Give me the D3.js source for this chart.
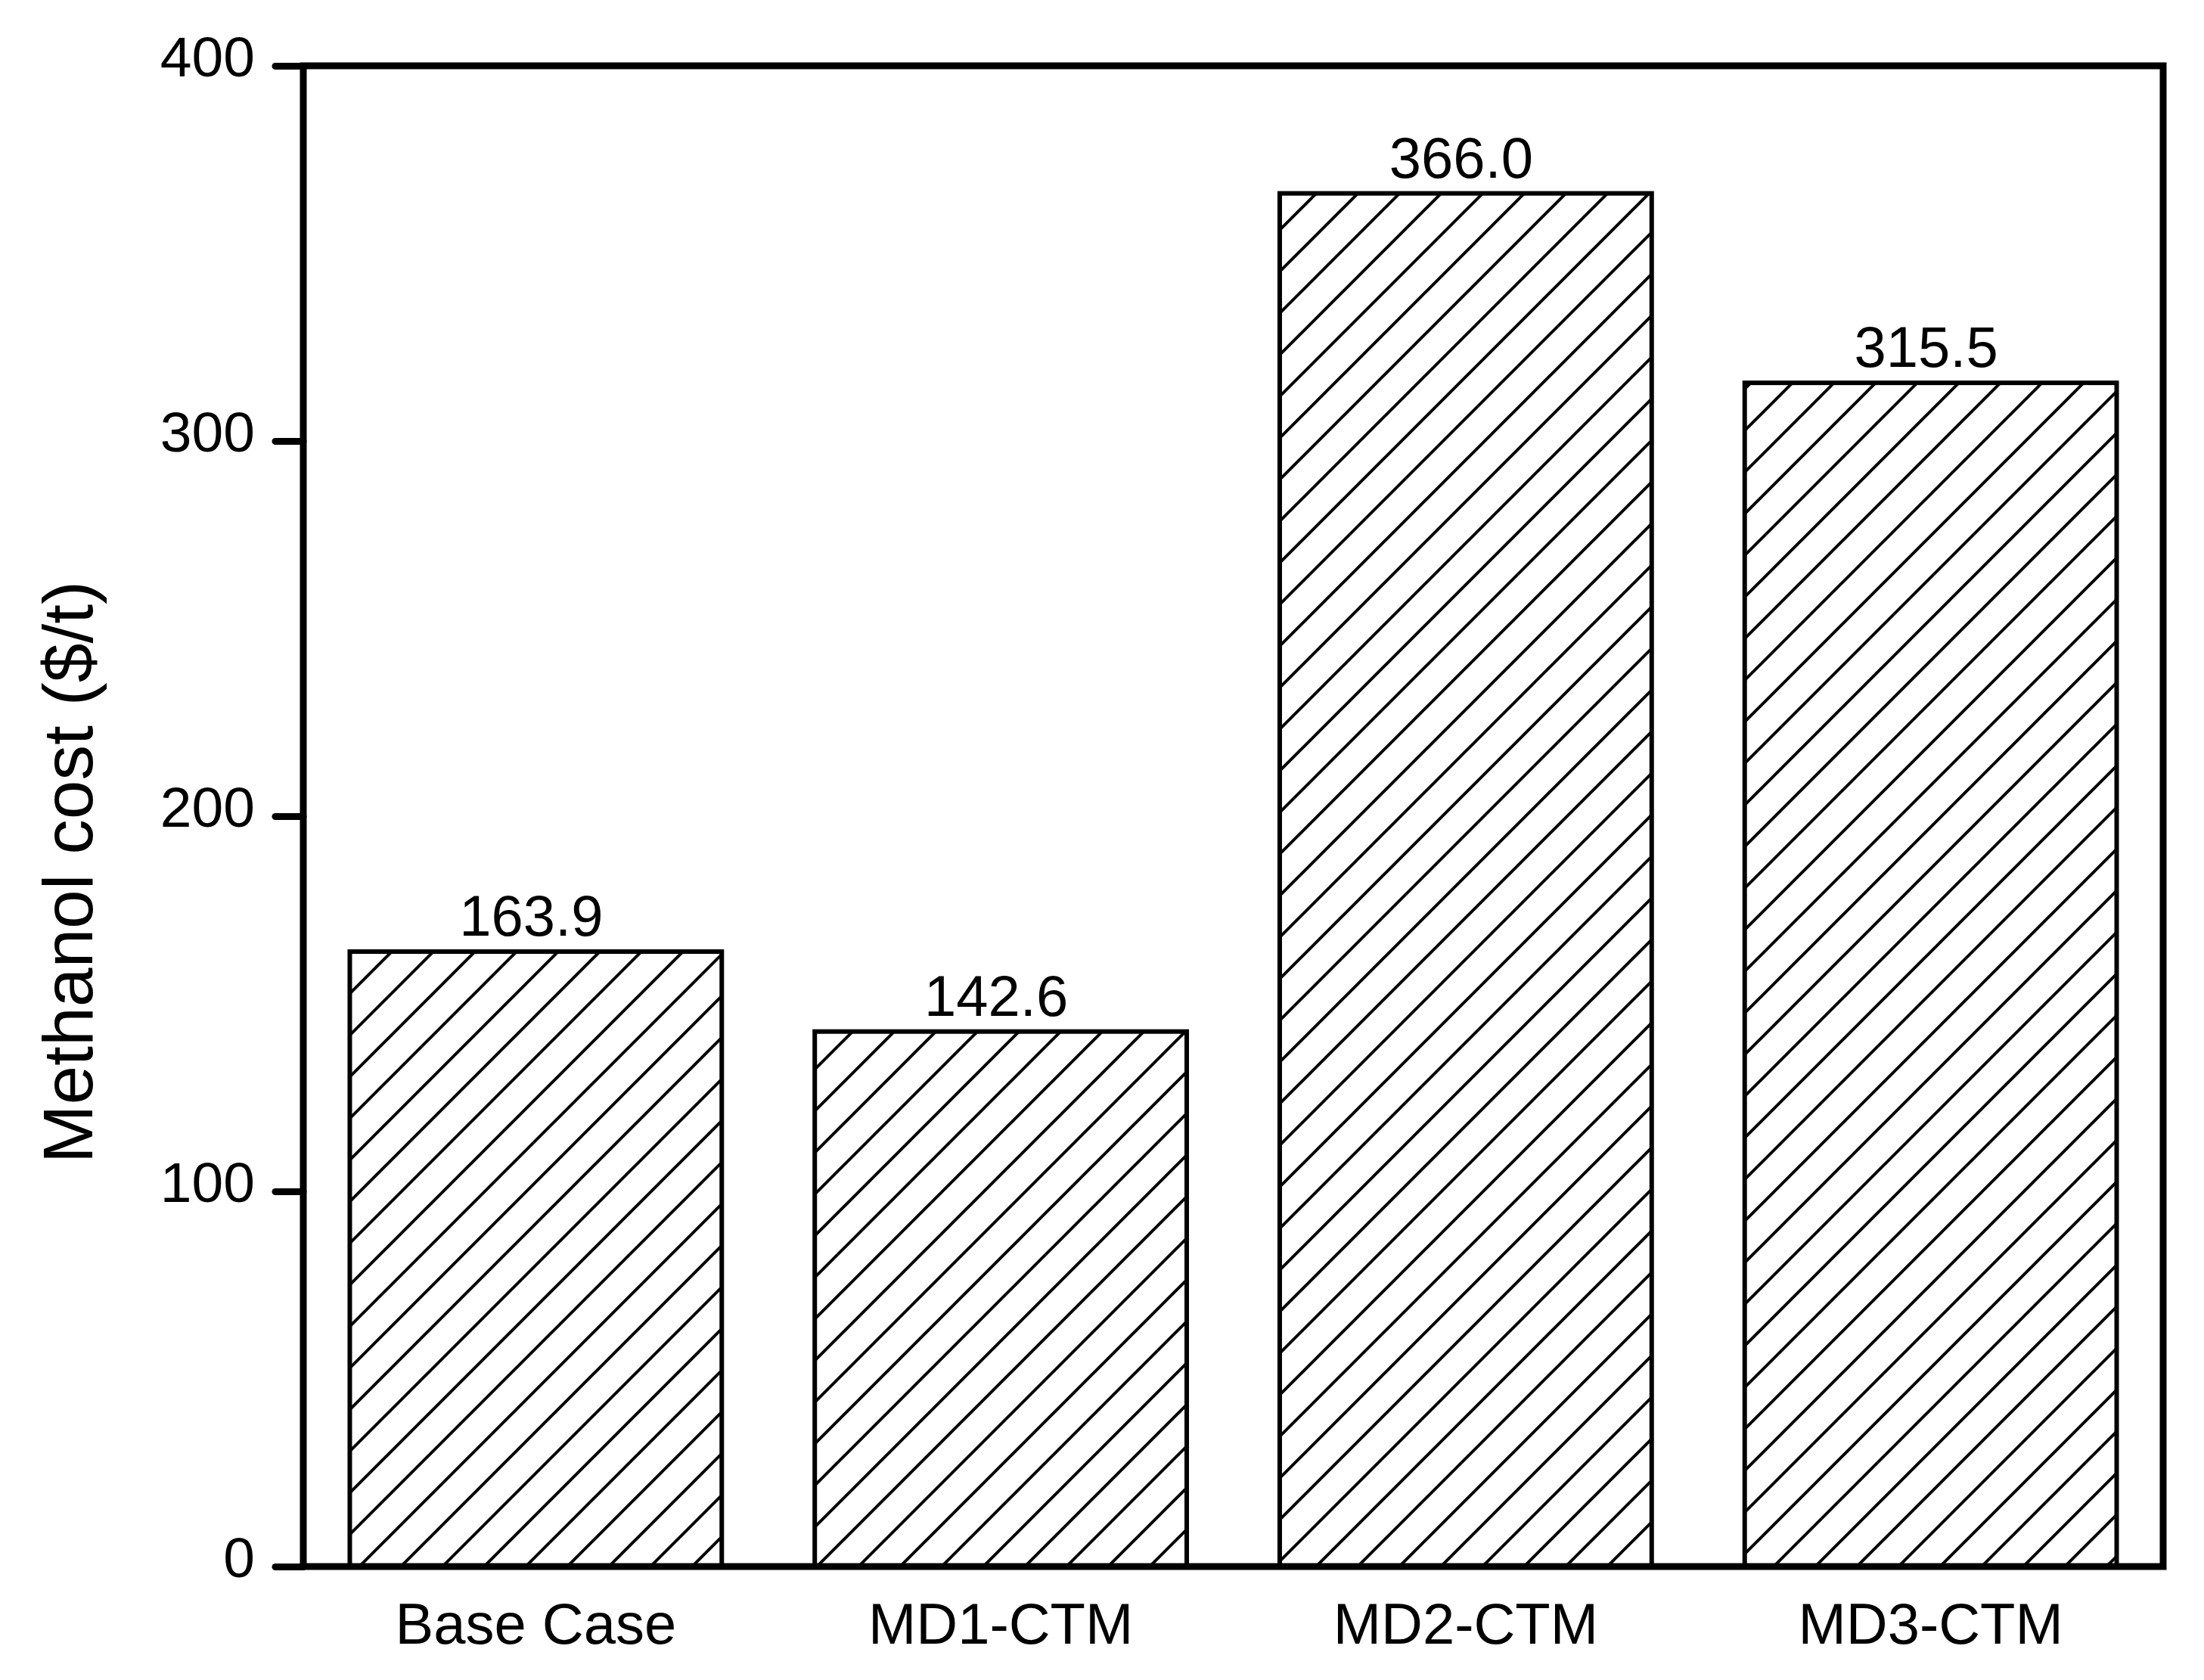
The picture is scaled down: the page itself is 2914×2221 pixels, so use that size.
<!DOCTYPE html>
<meta charset="utf-8">
<style>
body { margin: 0; background: #fff; }
text { font-family: "Liberation Sans", Arial, Helvetica, sans-serif; fill: #000; }
</style>

<svg width="2914" height="2221"></svg>

<script src="https://d3js.org/d3.v7.js"></script>
<script>

// data
var cases = ['Base Case', 'MD1-CTM', 'MD2-CTM', 'MD3-CTM']
var costs = [163.9, 142.6, 366.0, 315.5]
var costLabels = ['163.9', '142.6', '366.0', '315.5']
var yTicks = [0, 100, 200, 300, 400]

var svg = d3.select('svg')

// plot frame (note: "top" is reserved on window)
var plotLeft = 401, plotRight = 2860, plotTop = 87, plotBottom = 2071

var xScale = d3.scaleBand().domain(cases).range([plotLeft, plotRight]).paddingInner(0.2).paddingOuter(0.1)
var yScale = d3.scaleLinear().domain([0, 400]).range([plotBottom, plotTop])

// diagonal hatch
var defs = svg.append('defs')
var pat = defs.append('pattern')
  .attr('id', 'hatch')
  .attr('patternUnits', 'userSpaceOnUse')
  .attr('x', 16)
  .attr('y', 0)
  .attr('width', 55)
  .attr('height', 55)
pat.append('path')
  .attr('d', 'M0,55 L55,0 M-10,10 L10,-10 M45,65 L65,45')
  .attr('stroke', '#000')
  .attr('stroke-width', 4)
  .attr('fill', 'none')

// bars
svg.append('g')
  .selectAll('rect')
  .data(costs)
  .enter()
  .append('rect')
  .attr('x', function (d, i) { return xScale(cases[i]) })
  .attr('y', function (d) { return yScale(d) })
  .attr('width', xScale.bandwidth())
  .attr('height', function (d) { return yScale(0) - yScale(d) })
  .attr('fill', 'url(#hatch)')
  .attr('stroke', '#000')
  .attr('stroke-width', 6)

// value labels
svg.append('g')
  .selectAll('text')
  .data(costs)
  .enter()
  .append('text')
  .attr('x', function (d, i) { return xScale(cases[i]) + xScale.bandwidth() / 2 - 6 })
  .attr('y', function (d) { return yScale(d) - 21 })
  .attr('text-anchor', 'middle')
  .style('font-size', '76px')
  .text(function (d, i) { return costLabels[i] })

// y axis
var yAxis = svg.append('g')
  .attr('transform', 'translate(' + plotLeft + ',0)')
  .call(d3.axisLeft(yScale).tickValues(yTicks).tickSize(37).tickPadding(27).tickFormat(d3.format('d')))
yAxis.select('.domain').remove()
yAxis.selectAll('line')
  .attr('stroke', '#000')
  .attr('stroke-width', 9)
  .attr('stroke-linecap', 'round')
yAxis.selectAll('text')
  .attr('dy', 13)
  .attr('fill', '#000')
  .style('font-size', '75px')
  .style('font-family', '"Liberation Sans", Arial, sans-serif')

// x axis
var xAxis = svg.append('g')
  .attr('transform', 'translate(0,' + plotBottom + ')')
  .call(d3.axisBottom(xScale).tickSize(0).tickPadding(48))
xAxis.select('.domain').remove()
xAxis.selectAll('text')
  .attr('fill', '#000')
  .style('font-size', '76px')
  .style('font-family', '"Liberation Sans", Arial, sans-serif')

// frame
svg.append('rect')
  .attr('x', plotLeft)
  .attr('y', plotTop)
  .attr('width', plotRight - plotLeft)
  .attr('height', plotBottom - plotTop)
  .attr('fill', 'none')
  .attr('stroke', '#000')
  .attr('stroke-width', 9)

// y title
svg.append('text')
  .attr('text-anchor', 'middle')
  .attr('transform', 'translate(122,1153)rotate(-90)')
  .style('font-size', '93px')
  .text('Methanol cost ($/t)')

</script>
